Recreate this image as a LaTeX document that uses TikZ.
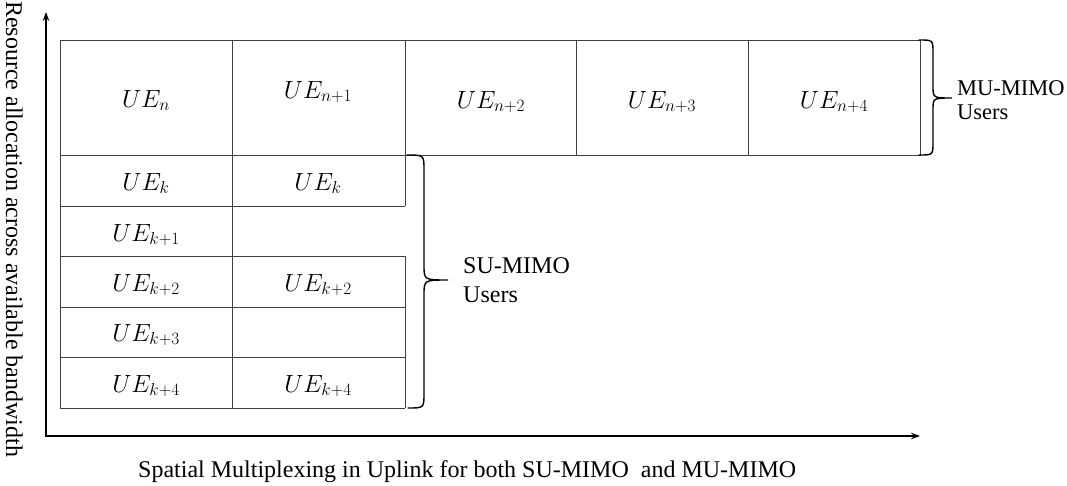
\documentclass[tikz,border=0pt]{standalone}
\usepackage{fontspec}
\setmainfont{Liberation Serif}
\usetikzlibrary{arrows.meta}
\begin{document}
\begin{tikzpicture}[x=1pt,y=-1pt,
  gridline/.style={draw=black!75, line width=0.9pt},
  axisline/.style={line width=1.6pt, {Stealth[length=9pt,width=6.5pt]}-{Stealth[length=9pt,width=6.5pt]}},
  brc/.style={line width=1.4pt, line cap=round},
  ue/.style={anchor=base, inner sep=0pt, font=\fontsize{23}{27}\selectfont},
  lbl/.style={anchor=base west, inner sep=0pt, font=\fontsize{24}{28}\selectfont},
  mulbl/.style={anchor=base west, inner sep=0pt, font=\fontsize{22.5}{26}\selectfont}]
\useasboundingbox (0,0) rectangle (1067,485);
% axes
\coordinate (Ytop) at (46,12);
\coordinate (O) at (46,436);
\coordinate (Xend) at (920,436);
\draw[axisline] (Ytop) -- (O) -- (Xend);
% MU-MIMO row
\draw[gridline] (60,40) rectangle (920,155);
\foreach \x in {232,405,576,748} \draw[gridline] (\x,40) -- (\x,155);
% SU-MIMO rows
\draw[gridline] (60,155) -- (60,408) -- (405,408);
\draw[gridline] (232,155) -- (232,408);
\draw[gridline] (405,155) -- (405,206);
\draw[gridline] (405,256) -- (405,408);
\foreach \y in {206,256,307,357} \draw[gridline] (60,\y) -- (405,\y);
% labels in cells
\node[ue] (n0) at (146,107) {$UE_n$};
\node[ue] (n1) at (318,98) {$UE_{n+1}$};
\node[ue] (n2) at (491,108) {$UE_{n+2}$};
\node[ue] (n3) at (662,108) {$UE_{n+3}$};
\node[ue] (n4) at (834,108) {$UE_{n+4}$};
\node[ue] (k0a) at (146,190) {$UE_k$};
\node[ue] (k0b) at (318,190) {$UE_k$};
\node[ue] (k1a) at (146,241) {$UE_{k+1}$};
\node[ue] (k2a) at (146,291) {$UE_{k+2}$};
\node[ue] (k2b) at (318,291) {$UE_{k+2}$};
\node[ue] (k3a) at (146,341) {$UE_{k+3}$};
\node[ue] (k4a) at (146,392) {$UE_{k+4}$};
\node[ue] (k4b) at (318,392) {$UE_{k+4}$};
% braces
\draw[brc] (919,40) .. controls (933,40) .. (933,53) -- (933,86) .. controls (933,98) .. (952,98) .. controls (933,98) .. (933,110) -- (933,142) .. controls (933,155) .. (919,155);
\draw[brc] (407,155) .. controls (424,155) .. (424,170) -- (424,265) .. controls (424,280) .. (448,280) .. controls (424,280) .. (424,295) -- (424,393) .. controls (424,408) .. (408,408);
% brace labels
\node[mulbl] (mu1) at (957,95) {MU-MIMO};
\node[mulbl] (mu2) at (957,119) {Users};
\node[lbl] (su1) at (463,273) {SU-MIMO};
\node[lbl] (su2) at (463,302) {Users};
% axis labels
\node[lbl] (xl) at (138,477) {Spatial Multiplexing in Uplink for both SU-MIMO\ \ and MU-MIMO};
\node[lbl, rotate=-90] (yl) at (6,1) {Resource allocation across available bandwidth};
\end{tikzpicture}
\end{document}
